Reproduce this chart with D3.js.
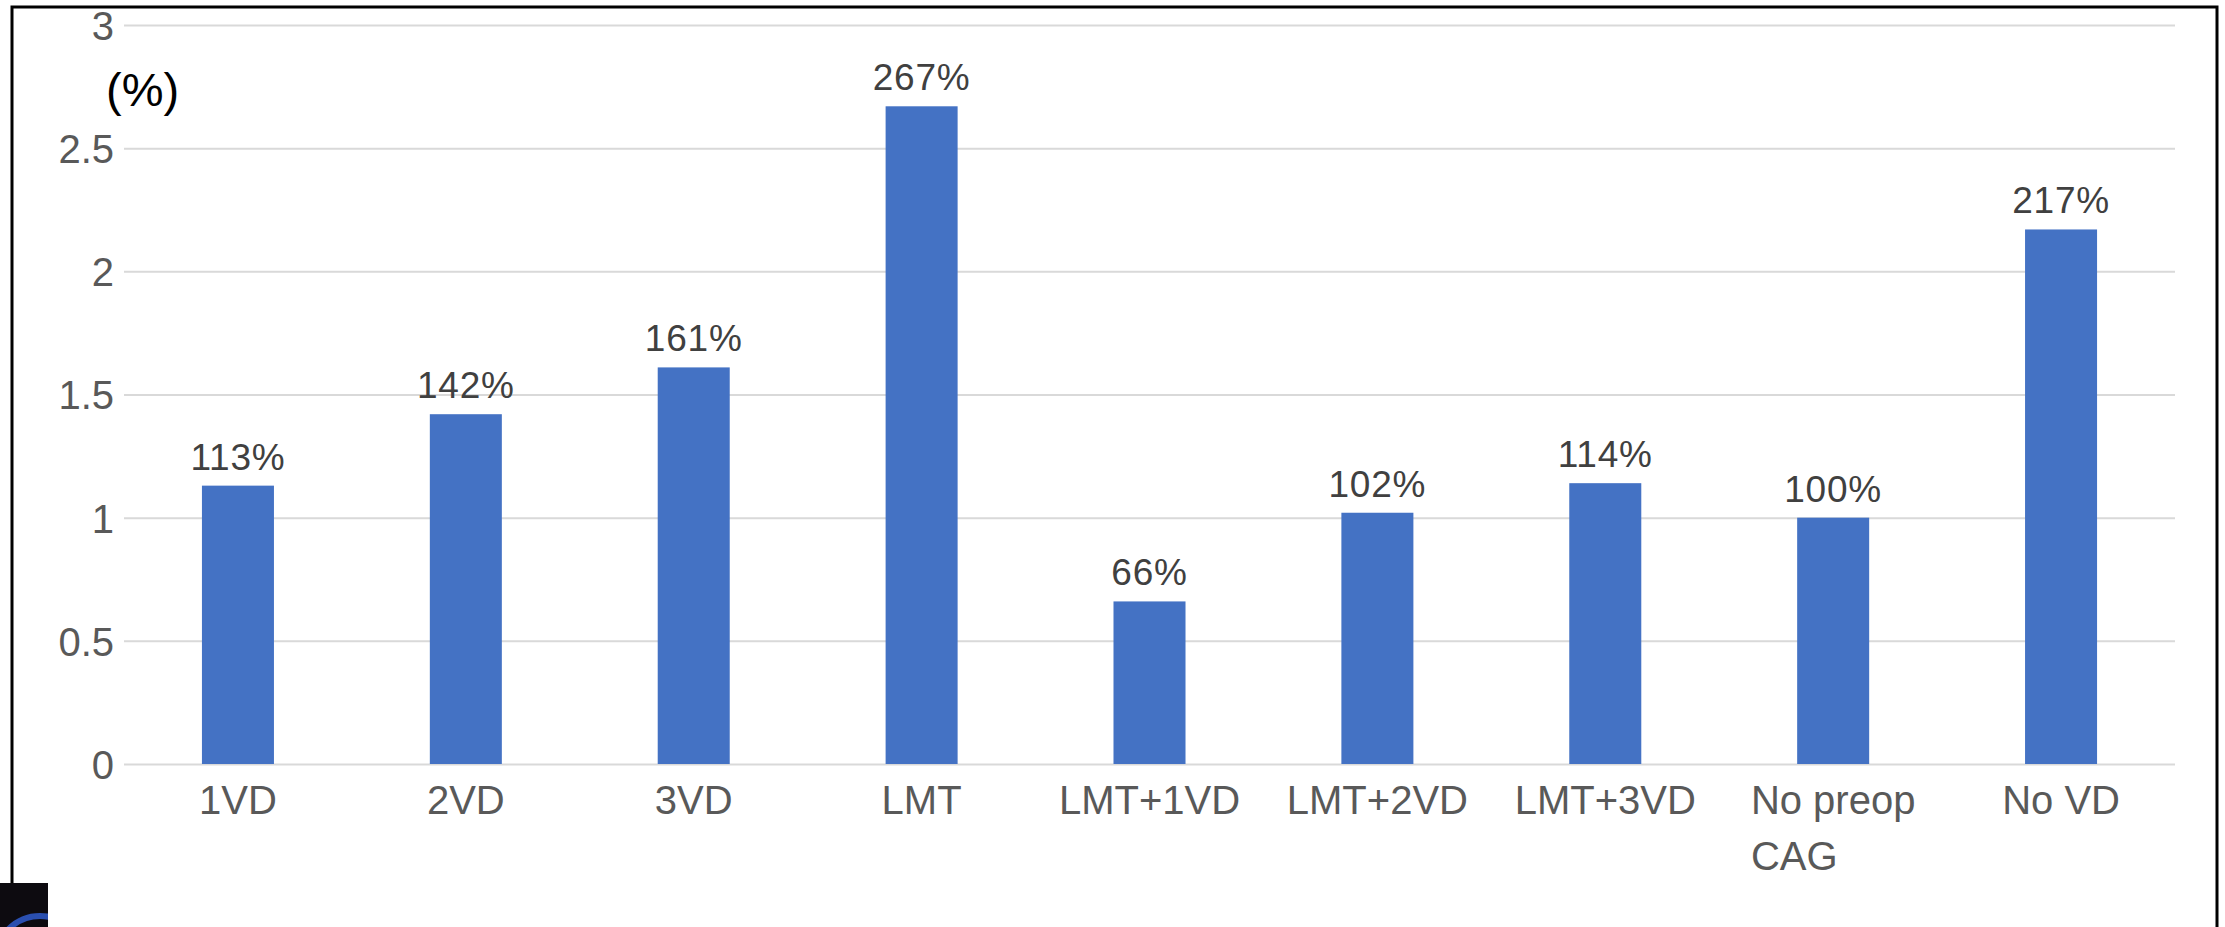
<!DOCTYPE html>
<html>
<head>
<meta charset="utf-8">
<script src="https://cdn.jsdelivr.net/npm/d3@7"></script>
<style>
  body { margin: 0; background: #fff; }
  text { font-family: "Liberation Sans", Arial, sans-serif; }
</style>
</head>
<body>
<div id="chart"></div>
<script>
/** data **/
var categories = ["1VD", "2VD", "3VD", "LMT", "LMT+1VD", "LMT+2VD", "LMT+3VD", "No preop\nCAG", "No VD"];
var values = [1.13, 1.42, 1.61, 2.67, 0.66, 1.02, 1.14, 1.00, 2.17];
var valueLabels = ["113%", "142%", "161%", "267%", "66%", "102%", "114%", "100%", "217%"];
var yTicks = [0, 0.5, 1, 1.5, 2, 2.5, 3];

var W = 2225, H = 927;
var plotLeft = 124, plotRight = 2175, plotTop = 25, plotBottom = 764;

var svg = d3.select("#chart").append("svg")
    .attr("width", W)
    .attr("height", H);

/** frame **/
svg.append("path")
    .attr("d", "M12,883 L12,7 L2217,7 L2217,927")
    .attr("fill", "none")
    .attr("stroke", "black")
    .attr("stroke-width", 3);

/** logo corner, clipped to its square **/
svg.append("clipPath").attr("id", "logoclip")
    .append("rect")
    .attr("x", 0).attr("y", 883)
    .attr("width", 48).attr("height", 44);
var logo = svg.append("g").attr("clip-path", "url(#logoclip)");
logo.append("rect")
    .attr("x", 0).attr("y", 883)
    .attr("width", 48).attr("height", 44)
    .style("fill", "#0d0b10");
logo.append("circle")
    .attr("cx", 40).attr("cy", 960)
    .attr("r", 44)
    .style("fill", "none")
    .style("stroke", "#2a4fb0")
    .style("stroke-width", 6);

var x = d3.scaleBand()
    .domain(categories)
    .range([plotLeft, plotRight])
    .paddingInner(0.684)
    .paddingOuter(0.342);

var y = d3.scaleLinear()
    .domain([0, 3])
    .range([plotBottom, plotTop]);

/** gridlines + y labels **/
var yAxis = svg.append("g")
    .attr("transform", "translate(" + plotLeft + ",0)")
    .call(d3.axisLeft(y).tickValues(yTicks).tickSize(-(plotRight - plotLeft)).tickPadding(10)
        .tickFormat(function(d) { return String(d); }));
yAxis.select(".domain").remove();
yAxis.selectAll(".tick line")
    .attr("stroke", "#d9d9d9")
    .attr("stroke-width", 2);
yAxis.selectAll(".tick text")
    .attr("font-size", 40)
    .attr("fill", "#595959")
    .attr("dy", "0.36em");

/** unit label **/
svg.append("text")
    .text("(%)")
    .attr("x", 106)
    .attr("y", 106)
    .attr("font-size", 47)
    .style("fill", "black");

/** bars **/
svg.selectAll(".bar")
    .data(values)
    .enter().append("rect")
    .attr("class", "bar")
    .attr("x", function(d, i) { return x(categories[i]); })
    .attr("y", function(d) { return y(d); })
    .attr("width", x.bandwidth())
    .attr("height", function(d) { return y(0) - y(d); })
    .style("fill", "#4472c4");

/** value labels **/
svg.selectAll(".val")
    .data(values)
    .enter().append("text")
    .attr("class", "val")
    .text(function(d, i) { return valueLabels[i]; })
    .attr("x", function(d, i) { return x(categories[i]) + x.bandwidth() / 2; })
    .attr("y", function(d) { return y(d) - 16; })
    .attr("text-anchor", "middle")
    .attr("font-size", 37)
    .attr("letter-spacing", 0.8)
    .style("fill", "#404040");

/** category labels **/
categories.forEach(function(c) {
    var lines = c.split("\n");
    var cx = x(c) + x.bandwidth() / 2;
    var first = svg.append("text")
        .text(lines[0])
        .attr("x", cx)
        .attr("y", 814)
        .attr("text-anchor", "middle")
        .attr("font-size", 40)
        .style("fill", "#595959");
    if (lines.length > 1) {
        var w = first.node().getComputedTextLength();
        svg.append("text")
            .text(lines[1])
            .attr("x", cx - w / 2)
            .attr("y", 870)
            .attr("font-size", 40)
            .style("fill", "#595959");
    }
});
</script>
</body>
</html>
